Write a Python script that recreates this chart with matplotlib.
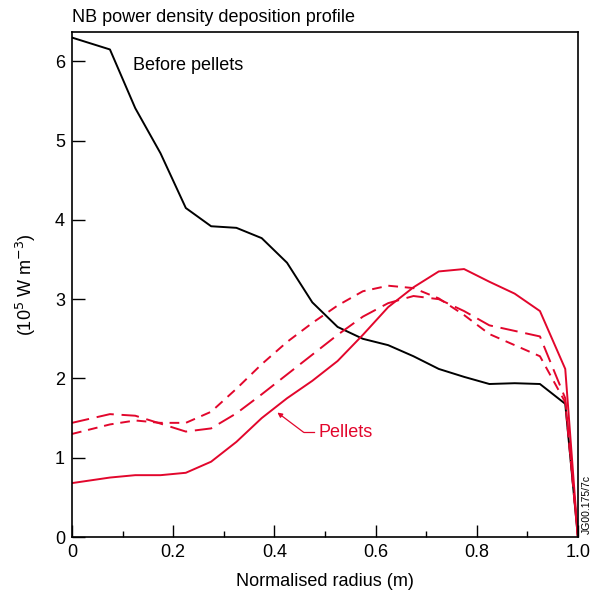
import numpy as np
import matplotlib.pyplot as plt
from matplotlib.ticker import MultipleLocator, FuncFormatter

plt.rcParams['font.family'] = ['Liberation Sans', 'DejaVu Sans']

# radial positions of the profile points
radius = [0.0, 0.075, 0.125, 0.175, 0.225, 0.275, 0.325, 0.375, 0.425, 0.475, 0.525,
          0.575, 0.625, 0.675, 0.725, 0.775, 0.825, 0.875, 0.925, 0.975, 1.0]

before = [6.30, 6.15, 5.41, 4.84, 4.15, 3.92, 3.90, 3.77, 3.46, 2.96, 2.65,
          2.50, 2.42, 2.28, 2.12, 2.02, 1.93, 1.94, 1.93, 1.68, 0.0]
pellets_solid = [0.68, 0.75, 0.78, 0.78, 0.81, 0.95, 1.20, 1.50, 1.75, 1.97, 2.22,
                 2.55, 2.90, 3.15, 3.35, 3.38, 3.22, 3.07, 2.85, 2.12, 0.0]
pellets_short = [1.30, 1.42, 1.47, 1.44, 1.44, 1.58, 1.87, 2.18, 2.46, 2.70, 2.92,
                 3.10, 3.17, 3.14, 3.01, 2.80, 2.56, 2.42, 2.28, 1.70, 0.0]
pellets_long = [1.44, 1.55, 1.53, 1.43, 1.33, 1.37, 1.56, 1.80, 2.05, 2.30, 2.55,
                2.78, 2.95, 3.04, 3.00, 2.85, 2.67, 2.60, 2.53, 1.75, 0.0]

red = '#e2062c'

fig = plt.figure(figsize=(5.97, 5.92), dpi=100)
ax = fig.add_axes([0.1206, 0.0929, 0.8474, 0.853])

ax.plot(radius, before, color='black', lw=1.4)
ax.plot(radius, pellets_solid, color=red, lw=1.4)
ax.plot(radius, pellets_short, color=red, lw=1.4, dashes=(5, 3.5))
ax.plot(radius, pellets_long, color=red, lw=1.4, dashes=(9, 4))

ax.set_xlim(0, 1.0)
ax.set_ylim(0, 6.37)
ax.xaxis.set_major_locator(MultipleLocator(0.2))
ax.xaxis.set_minor_locator(MultipleLocator(0.1))
ax.yaxis.set_major_locator(MultipleLocator(1))
ax.xaxis.set_major_formatter(FuncFormatter(lambda v, p: '0' if abs(v) < 1e-9 else f'{v:.1f}'))
ax.tick_params(axis='both', which='major', direction='in', length=9, width=1.0,
               labelsize=13, pad=5)
ax.tick_params(axis='x', which='minor', direction='in', length=4, width=1.0)
for s in ax.spines.values():
    s.set_linewidth(1.2)

ax.set_xlabel('Normalised radius (m)', fontsize=13, labelpad=9)
ax.set_ylabel('(10$^5$ W m$^{-3}$)', fontsize=13, labelpad=12)
ax.text(0.0, 1.012, 'NB power density deposition profile', transform=ax.transAxes,
        fontsize=13, ha='left', va='bottom')

ax.text(0.12, 5.95, 'Before pellets', fontsize=13, va='center')

# "Pellets" label with a bent leader line
ax.text(0.487, 1.32, 'Pellets', color=red, fontsize=13, va='center')
ax.plot([0.478, 0.458], [1.32, 1.32], color=red, lw=0.9)
ax.annotate('', xy=(0.406, 1.57), xytext=(0.458, 1.32),
            arrowprops=dict(arrowstyle='-|>', color=red, lw=0.9, mutation_scale=7,
                            shrinkA=0, shrinkB=0))

ax.text(1.008, 0.005, 'JG00.175/7c', transform=ax.transAxes, rotation=90,
        fontsize=7.5, ha='left', va='bottom')

fig.savefig('out.png', dpi=100)
